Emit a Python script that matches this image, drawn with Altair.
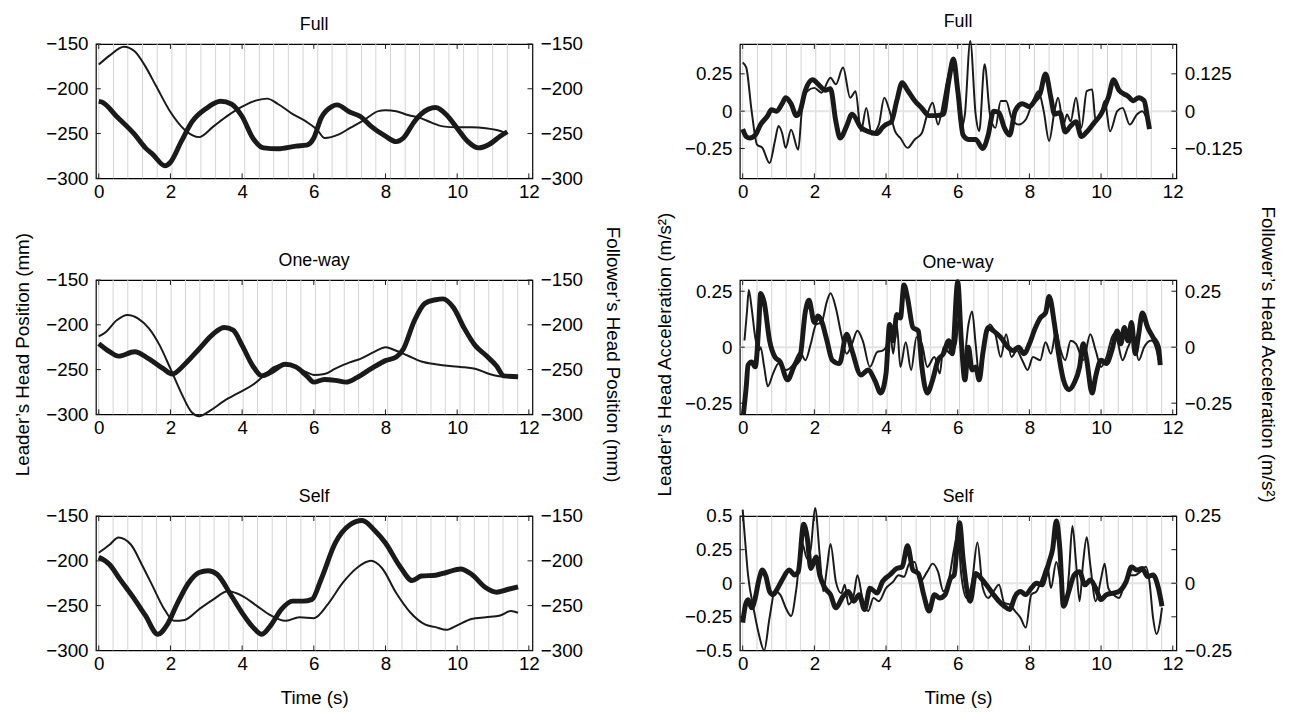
import altair as alt
import pandas as pd

FONT = "Liberation Sans"
INK = "#1a1a1a"

# ---------------- data ----------------
# Position panels (mm); thick = leader (left axis), thin = follower (right axis)
full_pos_thick_t = [0, 0.1, 0.5, 1.0, 1.3, 1.5, 1.85, 2.0, 2.3, 2.6, 3.0, 3.4, 3.7, 4.0, 4.3, 4.6, 5.0, 5.5, 5.8, 6.0, 6.2, 6.5, 6.65, 7.0, 7.3, 7.6, 8.0, 8.3, 8.5, 8.8, 9.0, 9.4, 9.7, 10.0, 10.3, 10.6, 10.9, 11.2, 11.4]
full_pos_thick_v = [-214, -215, -231, -251, -266, -273, -286, -282, -259, -237, -222, -214, -217, -231, -255, -266, -267, -264, -263, -255, -233, -220, -218, -226, -231, -242, -253, -259, -255, -237, -228, -221, -229, -244, -259, -266, -262, -253, -248]
full_pos_thin_t = [0, 0.3, 0.7, 1.0, 1.3, 1.6, 2.0, 2.4, 2.8, 3.2, 3.6, 4.0, 4.4, 4.7, 5.0, 5.4, 5.8, 6.1, 6.3, 6.7, 7.0, 7.4, 7.8, 8.0, 8.3, 8.6, 9.0, 9.3, 9.6, 10.0, 10.4, 10.8, 11.1, 11.4]
full_pos_thin_v = [-173, -163, -153, -158, -175, -197, -226, -246, -254, -242, -230, -220, -213, -211, -217, -228, -237, -246, -255, -251, -244, -235, -225, -224, -225, -229, -233, -238, -242, -243, -243, -244, -246, -250]

oneway_pos_thick_t = [0, 0.3, 0.55, 1.0, 1.4, 1.8, 2.05, 2.4, 2.8, 3.2, 3.5, 3.75, 4.0, 4.3, 4.55, 4.8, 5.2, 5.5, 5.8, 6.0, 6.3, 6.6, 6.9, 7.2, 7.6, 8.0, 8.3, 8.5, 8.8, 9.1, 9.4, 9.6, 9.9, 10.2, 10.5, 10.8, 11.1, 11.3, 11.7]
oneway_pos_thick_v = [-221, -230, -235, -230, -238, -249, -255, -244, -227, -210, -203, -206, -223, -246, -257, -253, -244, -247, -257, -264, -261, -262, -264, -259, -249, -240, -236, -227, -196, -176, -172, -171, -181, -204, -223, -234, -246, -257, -258]
oneway_pos_thin_t = [0, 0.2, 0.5, 0.8, 1.1, 1.4, 1.7, 2.0, 2.3, 2.6, 2.8, 3.1, 3.5, 3.9, 4.3, 4.6, 4.9, 5.2, 5.5, 5.8, 6.0, 6.3, 6.6, 7.0, 7.3, 7.7, 8.0, 8.3, 8.6, 9.0, 9.4, 9.8, 10.1, 10.5, 10.9, 11.3, 11.7]
oneway_pos_thin_v = [-213, -208, -195, -189, -193, -204, -223, -249, -276, -298, -302, -296, -285, -276, -267, -257, -247, -244, -247, -253, -256, -255, -249, -242, -238, -230, -225, -229, -234, -241, -244, -246, -247, -249, -255, -258, -258]

self_pos_thick_t = [0, 0.3, 0.6, 1.0, 1.3, 1.65, 1.9, 2.2, 2.5, 2.8, 3.05, 3.3, 3.7, 4.0, 4.3, 4.55, 4.8, 5.1, 5.4, 5.7, 5.95, 6.2, 6.6, 7.0, 7.35, 7.7, 8.0, 8.4, 8.75, 9.0, 9.4, 9.7, 10.1, 10.4, 10.8, 11.1, 11.4, 11.7]
self_pos_thick_v = [-196, -204, -221, -243, -261, -282, -272, -247, -225, -213, -211, -215, -239, -258, -274, -282, -272, -254, -245, -245, -243, -221, -180, -160, -155, -166, -180, -206, -222, -217, -216, -213, -209, -215, -230, -235, -232, -229]
self_pos_thin_t = [0, 0.3, 0.55, 0.9, 1.2, 1.5, 1.8, 2.1, 2.4, 2.8, 3.2, 3.6, 4.0, 4.4, 4.8, 5.2, 5.6, 6.0, 6.4, 6.8, 7.2, 7.6, 7.9, 8.3, 8.7, 9.1, 9.4, 9.7, 10.0, 10.4, 10.8, 11.2, 11.5, 11.7]
self_pos_thin_v = [-191, -182, -174, -182, -204, -228, -252, -267, -266, -254, -243, -234, -239, -250, -261, -267, -263, -264, -248, -225, -208, -200, -208, -236, -258, -271, -274, -277, -272, -265, -263, -261, -256, -258]

# Acceleration panels (m/s^2)
full_acc_thick_t = [0, 0.1, 0.2, 0.35, 0.5, 0.7, 0.8, 0.95, 1.1, 1.2, 1.35, 1.5, 1.6, 1.75, 1.95, 2.15, 2.3, 2.45, 2.6, 2.72, 2.9, 3.05, 3.3, 3.55, 3.75, 3.9, 4.0, 4.15, 4.3, 4.45, 4.6, 4.8, 5.0, 5.2, 5.4, 5.6, 5.75, 5.88, 6.0, 6.15, 6.3, 6.5, 6.7, 6.85, 7.0, 7.15, 7.3, 7.45, 7.6, 7.8, 8.0, 8.15, 8.3, 8.45, 8.6, 8.7, 8.85, 9.0, 9.15, 9.3, 9.45, 9.6, 9.8, 10.0, 10.2, 10.35, 10.5, 10.75, 10.9, 11.05, 11.2, 11.3, 11.35]
full_acc_thick_v = [-0.12, -0.17, -0.18, -0.16, -0.09, -0.03, 0.01, 0, 0.05, 0.09, 0.05, -0.03, 0, 0.14, 0.21, 0.17, 0.14, 0.15, -0.07, -0.18, -0.1, -0.02, -0.11, -0.14, -0.15, -0.11, -0.09, -0.07, 0.07, 0.19, 0.14, 0.07, 0.02, -0.03, -0.03, -0.02, 0.2, 0.35, 0.14, -0.16, -0.19, -0.19, -0.25, -0.16, 0, -0.01, -0.11, -0.16, 0, 0.05, 0.03, 0.07, 0.12, 0.25, 0.09, -0.02, -0.01, -0.14, -0.1, -0.07, -0.17, -0.14, -0.08, -0.02, 0.09, 0.21, 0.14, 0.1, 0.07, 0.09, 0.07, -0.05, -0.12]
full_acc_thin_t = [0, 0.1, 0.25, 0.4, 0.55, 0.75, 0.9, 1.0, 1.1, 1.2, 1.35, 1.55, 1.65, 1.8, 2.0, 2.2, 2.45, 2.6, 2.8, 3.0, 3.15, 3.3, 3.45, 3.6, 3.8, 3.95, 4.1, 4.25, 4.4, 4.6, 4.8, 5.0, 5.15, 5.3, 5.45, 5.6, 5.7, 5.85, 6.0, 6.1, 6.2, 6.35, 6.5, 6.6, 6.75, 6.9, 7.05, 7.2, 7.35, 7.5, 7.7, 7.9, 8.1, 8.25, 8.4, 8.55, 8.7, 8.8, 8.95, 9.05, 9.15, 9.3, 9.45, 9.6, 9.75, 9.85, 10.0, 10.1, 10.25, 10.45, 10.6, 10.8, 11.0, 11.15, 11.3]
full_acc_thin_v = [0.163, 0.146, 0, -0.112, -0.123, -0.174, -0.1, -0.05, -0.073, -0.123, -0.062, -0.129, 0, 0.067, 0.078, 0.062, 0.112, 0.09, 0.146, 0.045, 0.067, -0.067, 0.011, -0.078, -0.045, 0.045, 0, -0.067, -0.09, -0.123, -0.095, -0.073, -0.011, 0.028, -0.045, 0.034, 0.1, 0.163, 0.045, -0.056, -0.011, 0.235, -0.011, -0.067, 0.157, -0.011, -0.056, 0.034, 0.034, -0.022, -0.045, -0.028, 0.034, 0.067, 0, -0.1, 0, 0.045, -0.045, -0.011, -0.034, 0.045, -0.056, 0.067, 0.073, -0.034, -0.006, 0.034, -0.067, 0, 0.011, -0.045, -0.011, 0, -0.034]

oneway_acc_thick_t = [0.02, 0.1, 0.15, 0.25, 0.35, 0.45, 0.5, 0.6, 0.75, 0.9, 1.05, 1.25, 1.45, 1.6, 1.75, 1.85, 2.0, 2.1, 2.2, 2.35, 2.5, 2.7, 2.9, 3.05, 3.3, 3.5, 3.7, 3.85, 4.0, 4.1, 4.2, 4.3, 4.4, 4.5, 4.6, 4.75, 4.9, 5.0, 5.15, 5.3, 5.45, 5.6, 5.75, 5.85, 6.0, 6.1, 6.2, 6.3, 6.4, 6.5, 6.6, 6.7, 6.85, 7.0, 7.2, 7.4, 7.55, 7.7, 7.85, 8.0, 8.15, 8.3, 8.45, 8.55, 8.7, 8.8, 8.95, 9.1, 9.25, 9.4, 9.5, 9.6, 9.75, 9.85, 10.0, 10.15, 10.3, 10.45, 10.55, 10.65, 10.75, 10.85, 10.95, 11.05, 11.15, 11.3, 11.45, 11.6, 11.65]
oneway_acc_thick_v = [-0.3, -0.175, -0.08, -0.066, -0.088, 0.1, 0.24, 0.2, 0.03, -0.044, -0.066, -0.146, -0.08, -0.044, 0.16, 0.21, 0.11, 0.139, 0.117, 0.03, -0.058, -0.073, 0.058, -0.015, -0.124, -0.102, -0.153, -0.205, -0.117, 0.102, 0.029, 0.146, 0.13, 0.278, 0.22, 0.088, 0.073, -0.088, -0.205, -0.146, -0.058, -0.03, 0.029, -0.029, 0.292, 0.029, -0.146, 0, -0.102, -0.088, -0.146, -0.029, 0.088, 0.073, 0.044, 0, -0.015, 0, -0.029, 0.015, 0.08, 0.13, 0.153, 0.227, 0.102, -0.015, -0.146, -0.19, -0.16, -0.088, 0.015, -0.058, -0.205, -0.13, -0.058, -0.073, -0.015, 0.073, 0.015, 0.088, 0.029, 0.11, -0.029, 0.058, 0.153, 0.088, 0.044, 0, -0.08]
oneway_acc_thin_t = [0.05, 0.12, 0.17, 0.25, 0.35, 0.45, 0.5, 0.6, 0.7, 0.85, 1.0, 1.2, 1.4, 1.6, 1.75, 1.9, 2.05, 2.2, 2.35, 2.45, 2.6, 2.75, 2.9, 3.05, 3.2, 3.35, 3.55, 3.75, 3.9, 4.0, 4.1, 4.2, 4.3, 4.4, 4.55, 4.7, 4.85, 5.0, 5.15, 5.35, 5.5, 5.6, 5.8, 5.95, 6.05, 6.15, 6.3, 6.4, 6.5, 6.6, 6.75, 6.9, 7.05, 7.2, 7.35, 7.5, 7.65, 7.8, 7.95, 8.1, 8.3, 8.45, 8.6, 8.75, 8.85, 9.0, 9.15, 9.3, 9.5, 9.7, 9.85, 10.0, 10.15, 10.35, 10.45, 10.6, 10.75, 10.9, 11.05, 11.2, 11.4, 11.55, 11.6]
oneway_acc_thin_v = [0.03, 0.16, 0.256, 0.175, 0.044, -0.015, 0, -0.088, -0.175, -0.117, -0.073, -0.102, -0.08, -0.022, -0.058, 0.015, 0.102, 0.11, 0.205, 0.241, 0.175, 0.058, -0.029, 0.015, 0.073, 0.029, -0.088, -0.022, -0.015, 0, 0.088, -0.029, 0.102, -0.088, 0.022, -0.102, 0.044, 0.015, -0.088, -0.044, -0.117, 0, -0.029, 0.015, 0.16, -0.088, 0.102, 0.16, 0.015, -0.13, 0.03, 0.102, 0.058, -0.044, 0.058, -0.044, -0.015, -0.058, -0.102, -0.044, -0.058, 0.022, -0.029, 0.073, 0, -0.058, 0.029, 0.015, -0.058, 0.058, -0.015, -0.088, -0.044, 0.058, 0.03, -0.058, 0, 0.044, -0.058, 0, 0.03, -0.015, -0.058]

self_acc_thick_t = [0, 0.08, 0.15, 0.25, 0.35, 0.45, 0.55, 0.65, 0.75, 0.85, 0.95, 1.1, 1.3, 1.45, 1.55, 1.7, 1.8, 1.9, 2.05, 2.15, 2.3, 2.45, 2.6, 2.8, 2.95, 3.1, 3.25, 3.4, 3.55, 3.75, 3.9, 4.1, 4.3, 4.45, 4.6, 4.75, 4.9, 5.05, 5.2, 5.35, 5.5, 5.65, 5.8, 5.9, 6.05, 6.15, 6.25, 6.35, 6.5, 6.65, 6.8, 7.0, 7.15, 7.3, 7.45, 7.6, 7.75, 7.9, 8.05, 8.2, 8.35, 8.45, 8.55, 8.65, 8.75, 8.85, 8.95, 9.1, 9.25, 9.4, 9.55, 9.7, 9.85, 10.0, 10.15, 10.35, 10.5, 10.7, 10.85, 11.0, 11.15, 11.3, 11.45, 11.6, 11.7]
self_acc_thick_v = [-0.293, -0.159, -0.122, -0.183, -0.11, 0.024, 0.098, 0.049, -0.061, -0.085, -0.049, 0.024, 0.098, 0.061, 0.085, 0.439, 0.341, 0.11, 0.195, 0.061, -0.037, -0.085, -0.183, -0.098, -0.061, -0.134, -0.085, -0.195, -0.037, -0.073, 0.012, 0.061, 0.11, 0.122, 0.28, 0.098, 0.073, -0.085, -0.207, -0.085, -0.11, -0.085, 0.037, 0.061, 0.451, 0.183, -0.037, -0.134, 0.073, 0.037, -0.012, -0.085, -0.134, -0.171, -0.195, -0.098, -0.061, -0.085, -0.037, 0, -0.012, 0.061, 0.159, 0.256, 0.463, 0.256, -0.171, -0.061, 0.061, 0.085, -0.012, 0.024, -0.037, -0.122, -0.085, -0.073, -0.061, 0.012, 0.122, 0.098, 0.11, 0.049, 0.061, -0.037, -0.171]
self_acc_thin_t = [0, 0.05, 0.15, 0.3, 0.45, 0.6, 0.75, 0.9, 1.05, 1.2, 1.35, 1.5, 1.65, 1.8, 1.9, 2.02, 2.15, 2.25, 2.35, 2.45, 2.6, 2.75, 2.85, 2.95, 3.1, 3.2, 3.35, 3.5, 3.65, 3.8, 4.0, 4.2, 4.35, 4.5, 4.65, 4.8, 4.95, 5.15, 5.3, 5.45, 5.6, 5.75, 5.9, 6.0, 6.1, 6.25, 6.4, 6.55, 6.7, 6.85, 7.0, 7.15, 7.3, 7.45, 7.6, 7.75, 7.9, 8.05, 8.2, 8.35, 8.5, 8.6, 8.75, 8.9, 9.0, 9.1, 9.2, 9.3, 9.4, 9.5, 9.6, 9.7, 9.85, 10.0, 10.1, 10.2, 10.35, 10.5, 10.65, 10.8, 10.95, 11.1, 11.25, 11.35, 11.45, 11.55, 11.65, 11.7]
self_acc_thin_v = [0.274, 0.189, 0.03, -0.091, -0.189, -0.25, -0.128, -0.03, -0.043, -0.091, -0.122, -0.018, 0.152, 0.091, 0.128, 0.28, 0.104, -0.03, 0.055, 0.146, 0.006, -0.037, -0.006, -0.079, -0.043, 0.03, -0.061, -0.104, -0.055, -0.067, -0.018, 0.006, 0.03, 0.024, 0.073, 0.079, 0.006, 0.043, 0.073, 0.043, -0.03, 0.012, 0.128, 0.183, 0.03, -0.055, 0.006, 0.152, -0.018, -0.055, -0.03, -0.006, -0.073, -0.079, -0.104, -0.128, -0.165, -0.043, -0.03, 0.018, 0.067, -0.018, 0.079, -0.018, -0.079, 0.03, 0.213, 0.079, -0.067, 0.079, 0.171, 0.067, -0.067, 0.018, 0.073, -0.018, -0.043, -0.055, -0.006, 0.03, 0.03, 0.043, 0.061, 0.006, -0.128, -0.189, -0.14, -0.091]

# beat markers (s)
beats_full = [0, 0.41, 0.81, 1.22, 1.63, 2.04, 2.44, 2.85, 3.26, 3.66, 4.07, 4.48, 4.88, 5.29, 5.70, 6.11, 6.51, 6.92, 7.33, 7.73, 8.14, 8.55, 8.95, 9.36, 9.77, 10.18, 10.58, 10.99, 11.40]
beats_other = [0, 0.40, 0.81, 1.21, 1.61, 2.02, 2.42, 2.82, 3.22, 3.63, 4.03, 4.43, 4.84, 5.24, 5.64, 6.05, 6.45, 6.85, 7.25, 7.66, 8.06, 8.46, 8.87, 9.27, 9.67, 10.08, 10.48, 10.88, 11.28, 11.69]

x_ticks = [0, 2, 4, 6, 8, 10, 12]
pos_domain = [-300, -150]
pos_ticks = [-300, -250, -200, -150]

# ---------------- chart ----------------
PW = 442
PH = 136
TL = 5
ROWSP = 103
COLSP = 210
XDOM = [-0.08, 12.1]
FMT = ".6~g"
YTITLE_CENTER = PH + ROWSP + PH / 2 + 7   # about the middle row's centre, from the top row's top


def df(t, v):
    rows = list(zip(t, v))
    return pd.DataFrame({"t": [r[0] for r in rows], "v": [r[1] for r in rows]})


def xenc(field, title):
    return alt.X(f"{field}:Q", title=title,
                 scale=alt.Scale(domain=XDOM, nice=False, zero=False),
                 axis=alt.Axis(values=x_ticks, format=FMT, labelPadding=4, titlePadding=16))


def yenc(field, domain, ticks, title, orient, tpad):
    kw = dict(values=ticks, format=FMT, orient=orient, labelPadding=8, titlePadding=tpad)
    if title is not None:
        kw["titleY"] = YTITLE_CENTER
    return alt.Y(f"{field}:Q", title=title,
                 scale=alt.Scale(domain=domain, nice=False, zero=False),
                 axis=alt.Axis(**kw))


def panel(name, thick, thin, beats, ldom, lticks, rdom, rticks, ltitle, rtitle, xtitle, zero,
          toff, ltp, rtp):
    X = lambda f: xenc(f, xtitle)
    YL = lambda f: yenc(f, ldom, lticks, ltitle, "left", ltp)
    layers = [
        alt.Chart(pd.DataFrame({"t": beats})).mark_rule(color="#d3d3d3", strokeWidth=1).encode(
            x=X("t"), y=alt.value(0), y2=alt.value(PH)),
    ]
    if zero:
        layers.append(alt.Chart(pd.DataFrame({"v": [0]})).mark_rule(color="#e4e4e4", strokeWidth=2).encode(
            y=YL("v")))
    layers.append(alt.Chart(df(*thick)).mark_line(color=INK, strokeWidth=5, interpolate="monotone",
                                                   strokeJoin="round").encode(x=X("t"), y=YL("v")))
    xt = pd.DataFrame({"t": x_ticks})
    yt = pd.DataFrame({"v": lticks})
    layers += [
        alt.Chart(xt).mark_rule(color=INK, strokeWidth=1).encode(x=X("t"), y=alt.value(PH - TL), y2=alt.value(PH)),
        alt.Chart(xt).mark_rule(color=INK, strokeWidth=1).encode(x=X("t"), y=alt.value(0), y2=alt.value(TL)),
        alt.Chart(yt).mark_rule(color=INK, strokeWidth=1).encode(y=YL("v"), x=alt.value(0), x2=alt.value(TL)),
        alt.Chart(yt).mark_rule(color=INK, strokeWidth=1).encode(y=YL("v"), x=alt.value(PW - TL), x2=alt.value(PW)),
    ]
    left = alt.layer(*layers)
    right = alt.Chart(df(*thin)).mark_line(color=INK, strokeWidth=2, interpolate="monotone",
                                            strokeJoin="round").encode(
        x=X("t"), y=yenc("v", rdom, rticks, rtitle, "right", rtp))
    return alt.layer(left, right).resolve_scale(y="independent").properties(
        width=PW, height=PH,
        title=alt.TitleParams(name, fontSize=18, fontWeight="normal", font=FONT, color="black",
                              offset=toff, frame="group", anchor="middle"))


p_full_pos = panel("Full", (full_pos_thick_t, full_pos_thick_v), (full_pos_thin_t, full_pos_thin_v),
                   beats_full, pos_domain, pos_ticks, pos_domain, pos_ticks,
                   "Leader’s Head Position (mm)", "Follower’s Head Position (mm)", None, False,
                   1, 13, 20)
p_full_acc = panel("Full", (full_acc_thick_t, full_acc_thick_v), (full_acc_thin_t, full_acc_thin_v),
                   beats_full, [-0.45, 0.45], [-0.25, 0, 0.25], [-0.225, 0.225], [-0.125, 0, 0.125],
                   "Leader’s Head Acceleration (m/s²)", "Follower’s Head Acceleration (m/s²)", None, True,
                   9, 10, 16)
p_one_pos = panel("One-way", (oneway_pos_thick_t, oneway_pos_thick_v), (oneway_pos_thin_t, oneway_pos_thin_v),
                  beats_other, pos_domain, pos_ticks, pos_domain, pos_ticks, None, None, None, False,
                  1, 13, 20)
p_one_acc = panel("One-way", (oneway_acc_thick_t, oneway_acc_thick_v), (oneway_acc_thin_t, oneway_acc_thin_v),
                  beats_other, [-0.3, 0.3], [-0.25, 0, 0.25], [-0.3, 0.3], [-0.25, 0, 0.25],
                  None, None, None, True, 8, 10, 16)
p_self_pos = panel("Self", (self_pos_thick_t, self_pos_thick_v), (self_pos_thin_t, self_pos_thin_v),
                   beats_other, pos_domain, pos_ticks, pos_domain, pos_ticks, None, None, "Time (s)", False,
                   1, 13, 20)
p_self_acc = panel("Self", (self_acc_thick_t, self_acc_thick_v), (self_acc_thin_t, self_acc_thin_v),
                   beats_other, [-0.5, 0.5], [-0.5, -0.25, 0, 0.25, 0.5], [-0.25, 0.25], [-0.25, 0, 0.25],
                   None, None, "Time (s)", True, 1, 10, 16)

chart = alt.concat(p_full_pos, p_full_acc, p_one_pos, p_one_acc, p_self_pos, p_self_acc,
                   columns=2).properties(
    spacing={"row": ROWSP, "column": COLSP}, bounds="flush",
    padding={"left": 5, "top": 0, "right": 5, "bottom": 5}
).configure_view(stroke="black", strokeWidth=1.2).configure_axis(
    labelFont=FONT, titleFont=FONT, labelFontSize=19, titleFontSize=19, titleFontWeight="normal",
    labelColor="black", titleColor="black", ticks=False, domain=False, grid=False,
    labelFlush=False, labelOverlap=False, labelBound=False
).configure_title(font=FONT, fontSize=18, fontWeight="normal", color="black")

chart.save("out.html", embed_options={"renderer": "svg", "actions": False})
